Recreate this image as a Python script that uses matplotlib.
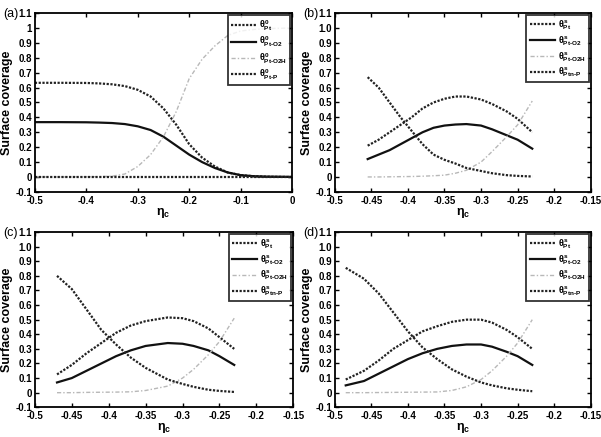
import numpy as np
import matplotlib.pyplot as plt

plt.rcParams["font.family"] = ["Liberation Sans", "DejaVu Sans"]
plt.rcParams["font.weight"] = "bold"
plt.rcParams["mathtext.fontset"] = "custom"
plt.rcParams["mathtext.rm"] = "Liberation Sans:bold"
plt.rcParams["mathtext.it"] = "Liberation Sans:bold"

# panel (a)
xa = [-0.5, -0.45, -0.4, -0.375, -0.35, -0.325, -0.3, -0.275, -0.25, -0.225,
      -0.2, -0.175, -0.15, -0.125, -0.1, -0.075, -0.05, -0.025, 0.0]
pt_a = [0.632, 0.632, 0.631, 0.628, 0.622, 0.61, 0.585, 0.54, 0.46, 0.35,
        0.22, 0.13, 0.07, 0.03, 0.012, 0.005, 0.002, 0.001, 0.0]
o2_a = [0.368, 0.368, 0.367, 0.365, 0.362, 0.355, 0.34, 0.315, 0.27, 0.21,
        0.15, 0.10, 0.06, 0.03, 0.012, 0.005, 0.002, 0.001, 0.0]
o2h_a = [0.0, 0.0, 0.001, 0.002, 0.005, 0.02, 0.07, 0.15, 0.27, 0.44,
         0.66, 0.79, 0.88, 0.95, 0.98, 0.99, 0.996, 0.998, 1.0]
p_a = [0.0] * 19

# panel (b)
xb = [-0.455, -0.44, -0.425, -0.41, -0.395, -0.38, -0.365, -0.35, -0.335,
      -0.32, -0.30, -0.285, -0.265, -0.25, -0.23]
pt_b = [0.21, 0.25, 0.30, 0.35, 0.40, 0.46, 0.50, 0.525, 0.54, 0.54, 0.52,
        0.49, 0.44, 0.39, 0.30]
o2_b = [0.12, 0.15, 0.18, 0.22, 0.26, 0.30, 0.33, 0.345, 0.352, 0.355, 0.345,
        0.32, 0.28, 0.25, 0.19]
o2h_b = [0.0, 0.0, 0.001, 0.002, 0.003, 0.005, 0.008, 0.012, 0.025, 0.045,
         0.10, 0.17, 0.27, 0.35, 0.51]
p_b = [0.67, 0.60, 0.50, 0.40, 0.31, 0.22, 0.15, 0.115, 0.09, 0.06, 0.04,
       0.025, 0.012, 0.007, 0.003]

# panel (c)
xc = [-0.47, -0.45, -0.43, -0.41, -0.39, -0.37, -0.35, -0.32, -0.30, -0.285,
      -0.265, -0.25, -0.23]
pt_c = [0.125, 0.19, 0.27, 0.34, 0.41, 0.46, 0.49, 0.515, 0.51, 0.49, 0.44,
        0.38, 0.30]
o2_c = [0.07, 0.10, 0.15, 0.20, 0.25, 0.29, 0.32, 0.34, 0.335, 0.32, 0.29,
        0.25, 0.19]
o2h_c = [0.0, 0.0, 0.002, 0.003, 0.004, 0.006, 0.015, 0.045, 0.10, 0.16,
         0.26, 0.35, 0.51]
p_c = [0.80, 0.71, 0.57, 0.43, 0.33, 0.24, 0.17, 0.09, 0.06, 0.04, 0.02,
       0.012, 0.005]

# panel (d)
xd = [-0.485, -0.46, -0.44, -0.42, -0.40, -0.38, -0.36, -0.34, -0.32, -0.30,
      -0.285, -0.265, -0.25, -0.23]
pt_d = [0.09, 0.15, 0.22, 0.30, 0.36, 0.42, 0.455, 0.485, 0.50, 0.50, 0.48,
        0.43, 0.38, 0.30]
o2_d = [0.05, 0.08, 0.13, 0.18, 0.23, 0.27, 0.30, 0.32, 0.33, 0.33, 0.315,
        0.28, 0.25, 0.19]
o2h_d = [0.0, 0.0, 0.001, 0.002, 0.003, 0.004, 0.005, 0.015, 0.04, 0.09,
         0.15, 0.25, 0.34, 0.50]
p_d = [0.855, 0.78, 0.68, 0.55, 0.42, 0.31, 0.23, 0.16, 0.11, 0.07, 0.05,
       0.03, 0.02, 0.01]

labels_a = [r"$\theta^{0}_{Pt}$", r"$\theta^{0}_{Pt\text{-}O2}$",
            r"$\theta^{0}_{Pt\text{-}O2H}$", r"$\theta^{0}_{Pt\text{-}P}$"]
labels_s = [r"$\theta^{s}_{Pt}$", r"$\theta^{s}_{Pt\text{-}O2}$",
            r"$\theta^{s}_{Pt\text{-}O2H}$", r"$\theta^{s}_{Ptn\text{-}P}$"]

panels = [
    ("(a)", xa, pt_a, o2_a, o2h_a, p_a, labels_a, [0.058, 0.561, 0.428, 0.409], 0.005),
    ("(b)", xb, pt_b, o2_b, o2h_b, p_b, labels_s, [0.557, 0.561, 0.426, 0.409], 0.505),
    ("(c)", xc, pt_c, o2_c, o2h_c, p_c, labels_s, [0.058, 0.068, 0.430, 0.401], 0.005),
    ("(d)", xd, pt_d, o2_d, o2h_d, p_d, labels_s, [0.557, 0.068, 0.426, 0.401], 0.505),
]

fig = plt.figure(figsize=(6.01, 4.37), dpi=100)

for i, (tag, x, pt, o2, o2h, p, labels, rect, tag_x) in enumerate(panels):
    ax = fig.add_axes(rect)
    ax.plot(x, pt, color="#222222", lw=1.6, ls=(0, (1, 0.7)), label=labels[0])
    ax.plot(x, o2, color="#111111", lw=1.6, ls="-", label=labels[1])
    ax.plot(x, o2h, color="#b8b8b8", lw=1.0, ls=(0, (3, 1.5, 1, 1.5)), label=labels[2])
    ax.plot(x, p, color="#222222", lw=1.6, ls=(0, (1, 0.7)), label=labels[3])

    ax.set_ylim(-0.1, 1.1)
    ax.set_yticks(np.arange(-0.1, 1.11, 0.1))
    if i == 0:
        ax.set_xlim(-0.5, 0)
        ax.set_xticks(np.arange(-0.5, 0.01, 0.1))
        ax.set_xticklabels(["-0.5", "-0.4", "-0.3", "-0.2", "-0.1", "0"])
        ax.set_yticklabels(["-0.1", "0", "0.1", "0.2", "0.3", "0.4", "0.5",
                            "0.6", "0.7", "0.8", "0.9", "1", "1.1"])
    else:
        ax.set_xlim(-0.5, -0.15)
        ax.set_xticks(np.arange(-0.5, -0.149, 0.05))
        ax.set_xticklabels(["-0.5", "-0.45", "-0.4", "-0.35", "-0.3",
                            "-0.25", "-0.2", "-0.15"])
        ax.set_yticklabels(["-0.1", "0", "0.1", "0.2", "0.3", "0.4", "0.5",
                            "0.6", "0.7", "0.8", "0.9", "1.0", "1.1"])

    ax.tick_params(direction="in", top=True, right=True, length=3, width=1,
                   labelsize=7)
    ax.tick_params(axis="x", pad=3)
    ax.tick_params(axis="y", pad=2)
    for s in ax.spines.values():
        s.set_linewidth(1.3)
    ax.set_xlabel(r"$\eta_c$", fontsize=9)
    ax.xaxis.set_label_coords(0.5, -0.08)
    ax.set_ylabel("Surface coverage", fontsize=9, fontweight="bold")
    ax.yaxis.set_label_coords(-0.085, 0.5)

    leg = ax.legend(loc="upper right", fontsize=6.5, frameon=True, fancybox=False,
                    edgecolor="black", borderaxespad=0.25, handlelength=2.8,
                    labelspacing=0.25, borderpad=0.35, handletextpad=0.3)
    leg.get_frame().set_linewidth(1.3)

    pos = ax.get_position()
    fig.text(tag_x, pos.y1 - 0.003, tag, fontsize=9, fontweight="normal",
             va="center", ha="left")

fig.savefig("out.png", dpi=100)
